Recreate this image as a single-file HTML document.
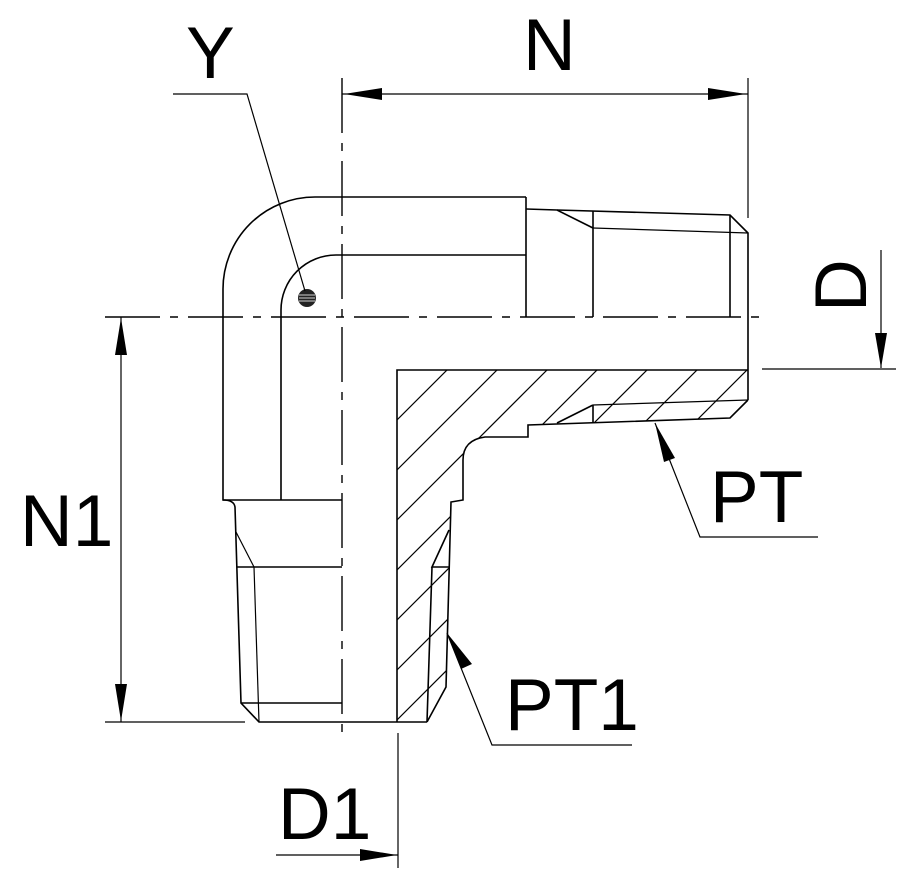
<!DOCTYPE html>
<html><head><meta charset="utf-8"><style>
html,body{margin:0;padding:0;background:#fff;}
svg{display:block;}
text{font-family:"Liberation Sans",sans-serif;fill:#000;}
</style></head><body>
<svg width="922" height="886" viewBox="0 0 922 886" xmlns="http://www.w3.org/2000/svg">
<defs>
<clipPath id="sec">
<path d="M397,370 L748,370 L748,400 L730,418 L528,425 L528,437 L485,437 Q463,440 463,460 L463,500 L451,502 L446,687 L427,722 L397,722 Z"/>
</clipPath>
</defs>
<g fill="none" stroke="#000" stroke-width="1.6">
<!-- elbow body -->
<path d="M526,197 L315,197 A92,92 0 0 0 223,289 L223,500 L342,500"/>
<path d="M526,255 L336,255 A55,55 0 0 0 281,310 L281,500"/>
<line x1="526" y1="197" x2="526" y2="317"/>
<!-- right thread -->
<path d="M526,209 L557,210 L593,228"/>
<path d="M557,210 L730,215 L748,233 L748,400"/>
<line x1="593" y1="228" x2="748" y2="233" stroke-width="1.2"/>
<line x1="593" y1="211" x2="593" y2="317"/>
<line x1="730" y1="215" x2="730" y2="317"/>
<!-- section outline -->
<path d="M397,722 L397,370 L748,370"/>
<path d="M748,400 L730,418 L528,425 L528,437 L485,437 Q463,440 463,460 L463,500 L451,502 L446,687 L427,722"/>
<path d="M593,405 L748,400" stroke-width="1.2"/>
<path d="M593,405 L557,423 M593,405 L593,423"/>
<!-- lower section inner thread -->
<path d="M449,530 L432,567 L449,567 M432,567 L427,722"/>
<!-- left thread -->
<path d="M223,500 Q234,500 235,507 L241,703 L259,722 L427,722"/>
<line x1="241" y1="703" x2="342" y2="703"/>
<line x1="236" y1="532" x2="254" y2="567" stroke-width="1.2"/>
<line x1="237" y1="567" x2="342" y2="567"/>
<line x1="254" y1="567" x2="259" y2="722" stroke-width="1.2"/>
</g>
<!-- hatching -->
<g clip-path="url(#sec)" stroke="#000" stroke-width="1.2">
<line x1="397" y1="420" x2="457" y2="360"/>
<line x1="397" y1="470" x2="507" y2="360"/>
<line x1="397" y1="520" x2="557" y2="360"/>
<line x1="397" y1="570" x2="607" y2="360"/>
<line x1="397" y1="620" x2="657" y2="360"/>
<line x1="397" y1="670" x2="707" y2="360"/>
<line x1="397" y1="720" x2="757" y2="360"/>
<line x1="397" y1="770" x2="807" y2="360"/>
<line x1="397" y1="820" x2="857" y2="360"/>
</g>
<!-- centerlines -->
<g stroke="#000" stroke-width="1.4" fill="none">
<line x1="105" y1="317" x2="760" y2="317" stroke-dasharray="55,10,8,10"/>
<line x1="342" y1="78" x2="342" y2="742" stroke-dasharray="55,10,8,10"/>
</g>
<!-- Y marker -->
<circle cx="307" cy="298" r="9" fill="#222"/>
<g stroke="#fff" stroke-width="0.8"><line x1="299" y1="295" x2="315" y2="295"/><line x1="299" y1="298" x2="315" y2="298"/><line x1="299" y1="301" x2="315" y2="301"/></g>
<g fill="none" stroke="#000" stroke-width="1.2">
<path d="M173,94 L247,94 L305,291"/>
<!-- N dim -->
<line x1="342" y1="94" x2="748" y2="94"/>
<line x1="748" y1="78" x2="748" y2="218"/>
<!-- D dim -->
<line x1="881" y1="250" x2="881" y2="368"/>
<line x1="762" y1="369" x2="896" y2="369"/>
<!-- N1 dim -->
<line x1="121" y1="317" x2="121" y2="722"/>
<line x1="105" y1="722" x2="245" y2="722"/>
<!-- D1 dim -->
<line x1="398" y1="733" x2="398" y2="868"/>
<line x1="276" y1="855" x2="398" y2="855"/>
<!-- PT leaders -->
<path d="M655,423 L700,537 L818,537"/>
<path d="M447,633 L492,745 L632,745"/>
</g>
<g fill="#000">
<path d="M344,94 L382,88 L382,100 Z"/>
<path d="M746,94 L708,88 L708,100 Z"/>
<path d="M881,368 L875,333 L887,333 Z"/>
<path d="M121,318 L115,355 L127,355 Z"/>
<path d="M121,721 L115,684 L127,684 Z"/>
<path d="M397,855 L360,849 L360,861 Z"/>
<path d="M655,423 L675,458 L664,462 Z"/>
<path d="M447,633 L472,664 L461,669 Z"/>
</g>
<text x="186" y="78" font-size="73">Y</text>
<text x="523" y="70" font-size="73">N</text>
<text x="20" y="546" font-size="73">N1</text>
<text x="710" y="522" font-size="73">PT</text>
<text x="505" y="730" font-size="73">PT1</text>
<text x="278" y="839" font-size="73">D1</text>
<text font-size="73" transform="translate(866,312) rotate(-90)">D</text>
</svg>
</body></html>
